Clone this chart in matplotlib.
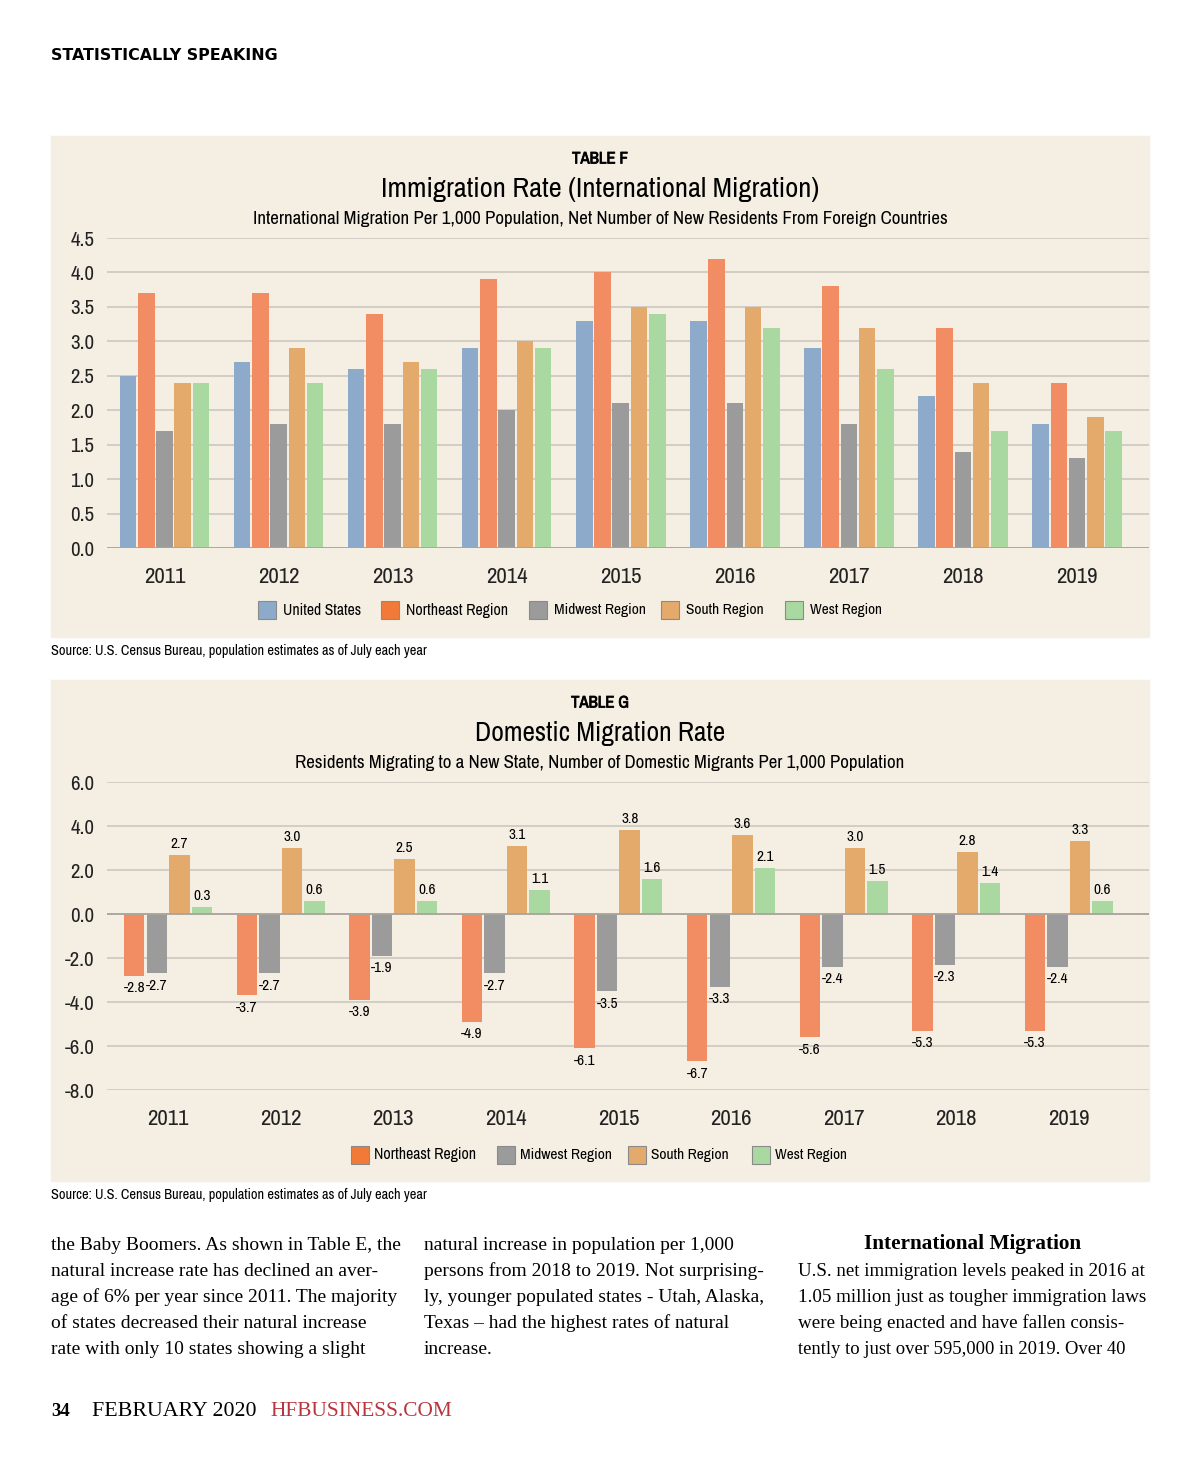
import matplotlib
matplotlib.use("Agg")
import numpy as np
from matplotlib import pyplot as plt
from matplotlib.patches import Rectangle
from matplotlib import font_manager as fm
from matplotlib import patheffects as pe

W, H = 1200, 1469

years = ['2011', '2012', '2013', '2014', '2015', '2016', '2017', '2018', '2019']

# Table F - international migration per 1,000
intl_us = [2.5, 2.7, 2.6, 2.9, 3.3, 3.3, 2.9, 2.2, 1.8]
intl_ne = [3.7, 3.7, 3.4, 3.9, 4.0, 4.2, 3.8, 3.2, 2.4]
intl_mw = [1.7, 1.8, 1.8, 2.0, 2.1, 2.1, 1.8, 1.4, 1.3]
intl_so = [2.4, 2.9, 2.7, 3.0, 3.5, 3.5, 3.2, 2.4, 1.9]
intl_we = [2.4, 2.4, 2.6, 2.9, 3.4, 3.2, 2.6, 1.7, 1.7]

# Table G - domestic migration per 1,000
dom_ne = [-2.8, -3.7, -3.9, -4.9, -6.1, -6.7, -5.6, -5.3, -5.3]
dom_mw = [-2.7, -2.7, -1.9, -2.7, -3.5, -3.3, -2.4, -2.3, -2.4]
dom_so = [2.7, 3.0, 2.5, 3.1, 3.8, 3.6, 3.0, 2.8, 3.3]
dom_we = [0.3, 0.6, 0.6, 1.1, 1.6, 2.1, 1.5, 1.4, 0.6]

c_us, c_ne, c_mw, c_so, c_we = '#8eaacb', '#f28c62', '#9b9b9b', '#e3aa6c', '#a9d8a1'
leg_ne = '#f27a36'
panel_bg = '#f5efe3'
grid_c = '#c9c5bd'

# pick a narrow face if one exists, else plain sans
narrow_fam, narrow_str = 'DejaVu Sans', 'normal'
for f in fm.fontManager.ttflist:
    if 'Narrow' in f.name or 'Condensed' in f.name:
        narrow_fam, narrow_str = f.name, 'normal'
        break
else:
    for f in fm.fontManager.ttflist:
        if f.name in ('DejaVu Sans', 'Liberation Sans', 'Roboto') and f.stretch in ('condensed', 'semi-condensed'):
            narrow_fam, narrow_str = f.name, f.stretch
            break
plt.rcParams['font.family'] = [narrow_fam, 'DejaVu Sans']
plt.rcParams['font.stretch'] = narrow_str


def box(x0, y0, x1, y1):
    # pixel box (top-left origin) -> figure fraction rect
    return [x0 / W, 1 - y1 / H, (x1 - x0) / W, (y1 - y0) / H]


fitted = []


def ftext(x, y, s, fitw=None, **kw):
    t = fig.text(x / W, 1 - y / H, s, **kw)
    if fitw:
        fitted.append((t, fitw))
    return t


fig = plt.figure(figsize=(W / 100, H / 100), dpi=100)
fig.patch.set_facecolor('white')

ftext(51, 56, 'STATISTICALLY SPEAKING', fitw=229, fontsize=10.5, fontweight='bold',
      family='DejaVu Sans', stretch='normal', va='center', ha='left')

# panels
for y0, y1 in [(136, 637), (680, 1181)]:
    fig.patches.append(Rectangle((51 / W, 1 - y1 / H), 1098 / W, (y1 - y0) / H,
                                 transform=fig.transFigure, color=panel_bg, zorder=-5))

x = np.arange(len(years))
fake_bold = [pe.withStroke(linewidth=0.6, foreground='#111111')]


def style_axes(ax):
    ax.set_facecolor('none')
    for s in ax.spines.values():
        s.set_visible(False)
    ax.tick_params(length=0, labelsize=15, colors='#222222')
    ax.tick_params(axis='x', pad=14, labelsize=16.5)
    ax.tick_params(axis='y', pad=9)
    ax.yaxis.grid(True, color=grid_c, lw=1.1)
    ax.set_axisbelow(True)
    ax.set_xticks(x)
    ax.set_xticklabels(years)


# ---- Table F
ax1 = fig.add_axes(box(107, 238, 1149, 548))
style_axes(ax1)
bw = 0.145
step = 0.16
series = [(intl_us, c_us), (intl_ne, c_ne), (intl_mw, c_mw), (intl_so, c_so), (intl_we, c_we)]
for i, (vals, col) in enumerate(series):
    ax1.bar(x + (i - 2) * step, vals, width=bw, color=col, zorder=2)
ax1.set_xlim(-0.504, 8.631)
ax1.set_ylim(0, 4.5)
ax1.set_yticks(np.arange(0, 4.51, 0.5))
ax1.set_yticklabels(['%.1f' % v for v in np.arange(0, 4.51, 0.5)])
ax1.axhline(0, color='#a9a59d', lw=1.3, zorder=3)

ftext(600, 159, 'TABLE F', fitw=56, fontsize=15, ha='center', va='center', path_effects=fake_bold)
ftext(600, 189, 'Immigration Rate (International Migration)', fitw=437, fontsize=25,
      ha='center', va='center')
ftext(600, 219, 'International Migration Per 1,000 Population, Net Number of New Residents From Foreign Countries',
      fitw=696, fontsize=15, ha='center', va='center')

leg1 = [('United States', c_us, 258, 78), ('Northeast Region', leg_ne, 381, 102),
        ('Midwest Region', c_mw, 529, 92), ('South Region', c_so, 661, 78), ('West Region', c_we, 785, 72)]
for lab, col, lx, lw_ in leg1:
    fig.patches.append(Rectangle((lx / W, 1 - 619 / H), 18 / W, 18 / H, transform=fig.transFigure,
                                 facecolor=col, edgecolor='#8a8a8a', lw=0.8))
    ftext(lx + 25, 610, lab, fitw=lw_, fontsize=13.5, va='center', ha='left')

ftext(51, 651, 'Source: U.S. Census Bureau, population estimates as of July each year', fitw=375,
      fontsize=11, va='center', ha='left')

# ---- Table G
ax2 = fig.add_axes(box(107, 782, 1149, 1090))
style_axes(ax2)
bw2 = 0.182
step2 = 0.2
series2 = [(dom_ne, c_ne), (dom_mw, c_mw), (dom_so, c_so), (dom_we, c_we)]
for i, (vals, col) in enumerate(series2):
    xs = x + (i - 1.5) * step2
    ax2.bar(xs, vals, width=bw2, color=col, zorder=2)
    for xi, v in zip(xs, vals):
        if v >= 0:
            ax2.text(xi, v + 0.18, '%.1f' % v, ha='center', va='bottom', fontsize=11)
        else:
            ax2.text(xi, v - 0.25, '%.1f' % v, ha='center', va='top', fontsize=11)
ax2.set_xlim(-0.542, 8.712)
ax2.set_ylim(-8, 6)
ax2.set_yticks(np.arange(-8, 6.1, 2))
ax2.set_yticklabels(['%.1f' % v for v in np.arange(-8, 6.1, 2)])
ax2.axhline(0, color='#a9a59d', lw=1.3, zorder=3)

ftext(600, 703, 'TABLE G', fitw=58, fontsize=15, ha='center', va='center', path_effects=fake_bold)
ftext(600, 733, 'Domestic Migration Rate', fitw=250, fontsize=25, ha='center', va='center')
ftext(600, 763, 'Residents Migrating to a New State, Number of Domestic Migrants Per 1,000 Population',
      fitw=611, fontsize=15, ha='center', va='center')

leg2 = [('Northeast Region', leg_ne, 351, 102), ('Midwest Region', c_mw, 497, 92),
        ('South Region', c_so, 628, 78), ('West Region', c_we, 752, 72)]
for lab, col, lx, lw_ in leg2:
    fig.patches.append(Rectangle((lx / W, 1 - 1164 / H), 18 / W, 18 / H, transform=fig.transFigure,
                                 facecolor=col, edgecolor='#8a8a8a', lw=0.8))
    ftext(lx + 23, 1155, lab, fitw=lw_, fontsize=13.5, va='center', ha='left')

ftext(51, 1195, 'Source: U.S. Census Bureau, population estimates as of July each year', fitw=375,
      fontsize=11, va='center', ha='left')

# ---- body text
col1 = ['the Baby Boomers. As shown in Table E, the',
        'natural increase rate has declined an aver-',
        'age of 6% per year since 2011. The majority',
        'of states decreased their natural increase',
        'rate with only 10 states showing a slight']
col2 = ['natural increase in population per 1,000',
        'persons from 2018 to 2019. Not surprising-',
        'ly, younger populated states - Utah, Alaska,',
        'Texas \u2013 had the highest rates of natural',
        'increase.']
col3 = ['U.S. net immigration levels peaked in 2016 at',
        '1.05 million just as tougher immigration laws',
        'were being enacted and have fallen consis-',
        'tently to just over 595,000 in 2019. Over 40']
serif = ['Liberation Serif', 'DejaVu Serif']
for i, s in enumerate(col1):
    ftext(51, 1245 + 26 * i, s, fontsize=14, family=serif, stretch='normal', va='center', ha='left')
for i, s in enumerate(col2):
    ftext(424, 1245 + 26 * i, s, fontsize=14, family=serif, stretch='normal', va='center', ha='left')
ftext(973, 1244, 'International Migration', fitw=218, fontsize=15, family=serif, stretch='normal',
      fontweight='bold', va='center', ha='center')
for i, s in enumerate(col3):
    ftext(798, 1271 + 26 * i, s, fitw=[348, 350, 328, 328][i], fontsize=14, family=serif,
          stretch='normal', va='center', ha='left')

ftext(51, 1412, '34', fontsize=13.5, family=serif, stretch='normal', fontweight='bold',
      va='center', ha='left')
ftext(92, 1412, 'FEBRUARY 2020', fitw=164, fontsize=13.5, family=serif, stretch='normal',
      va='center', ha='left')
ftext(270, 1412, 'HFBUSINESS.COM', fitw=182, fontsize=13.5, family=serif, stretch='normal',
      color='#b8353d', va='center', ha='left')

# scale each fitted text so its width matches the reference
r = fig.canvas.get_renderer()
for t, tw in fitted:
    w = t.get_window_extent(r).width
    if w > 0:
        t.set_fontsize(t.get_fontsize() * tw / w)

fig.savefig('out.png', dpi=100, facecolor='white')
